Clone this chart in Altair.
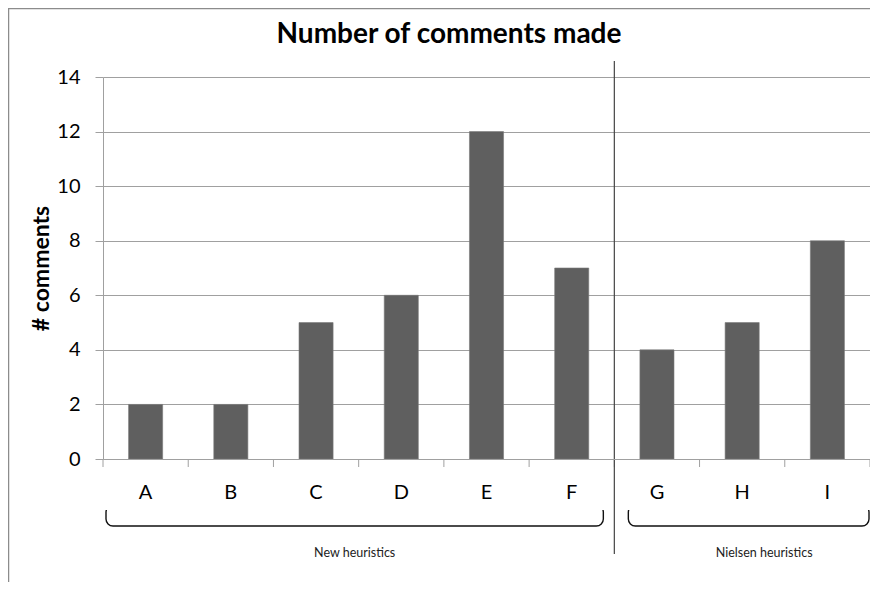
import altair as alt
import pandas as pd

categories = ["A", "B", "C", "D", "E", "F", "G", "H", "I"]
comments = [2, 2, 5, 6, 12, 7, 4, 5, 8]
group_names = ["New heuristics", "Nielsen heuristics"]
group_start = [0, 6]
group_end = [6, 9]
y_ticks = [0, 2, 4, 6, 8, 10, 12, 14]
title_text = "Number of comments made"
y_title = "# comments"

W, H = 767, 382
FONT = "Lato"
GRID = "#a0a0a0"

bars_df = pd.DataFrame({"cat": categories, "n": comments})
bounds_df = pd.DataFrame({"pos": list(range(len(categories) + 1))})
groups_df = pd.DataFrame({"group": group_names, "start": group_start, "end": group_end})
groups_df["mid"] = (groups_df["start"] + groups_df["end"]) / 2

xq = alt.Scale(domain=[0, len(categories)], range=[0, W], nice=False, zero=False)

bars = alt.Chart(bars_df).mark_bar(color="#5f5f5f", stroke="#7a7a7a", strokeWidth=0.6).encode(
    x=alt.X("cat:N", sort=categories,
            scale=alt.Scale(paddingInner=0.6, paddingOuter=0.3),
            axis=alt.Axis(title=None, labelAngle=0, ticks=False, domain=True,
                          domainColor=GRID, labelFontSize=20, labelFont=FONT,
                          labelColor="black", labelPadding=23, zindex=1)),
    y=alt.Y("n:Q", scale=alt.Scale(domain=[0, 14], nice=False),
            axis=alt.Axis(values=y_ticks, title=y_title, titleFontSize=23, titleFont=FONT,
                          titleFontWeight="bold", titleColor="black", titleX=-62, titleY=H / 2,
                          titleAngle=-90, titleAlign="center", titleBaseline="middle",
                          grid=True, gridColor=GRID, tickSize=8, tickColor=GRID,
                          domainColor=GRID, labelFontSize=20, labelFont=FONT,
                          labelColor="black", labelPadding=15)),
)

xticks = alt.Chart(bounds_df).mark_rule(color=GRID, strokeWidth=1).encode(
    x=alt.X("pos:Q", scale=xq, axis=None), y=alt.value(H), y2=alt.value(H + 8))

separator = alt.Chart(groups_df).transform_filter("datum.start > 0").mark_rule(
    color="#444444", strokeWidth=1.2).encode(
    x=alt.X("start:Q", scale=xq, axis=None), y=alt.value(-16), y2=alt.value(477))

title = alt.Chart(pd.DataFrame({"t": [title_text]})).mark_text(
    font=FONT, fontSize=28, fontWeight="bold", color="black", baseline="alphabetic",
    align="center").encode(text="t:N", x=alt.value(346), y=alt.value(-34))

frame = alt.Chart(pd.DataFrame({"t": [0]})).mark_rect(
    fill="transparent", stroke="#8c8c8c", strokeWidth=1.5).encode(
    x=alt.value(-94.5), x2=alt.value(W + 50), y=alt.value(-68.5), y2=alt.value(H + 200))

brace_offsets = {"New heuristics": (3, -11, -4), "Nielsen heuristics": (14, -1, 22)}

layers = [frame, bars, xticks, separator, title]
for g in group_names:
    lo, hi, dx = brace_offsets[g]
    gd = alt.Chart(groups_df).transform_filter(alt.datum.group == g)
    brace = gd.mark_rect(fill="transparent", stroke="#111111", strokeWidth=1.4,
                         cornerRadius=7, xOffset=lo, x2Offset=hi).encode(
        x=alt.X("start:Q", scale=xq, axis=None), x2="end:Q",
        y=alt.value(428), y2=alt.value(449))
    cover = gd.mark_rect(fill="white", xOffset=lo - 5, x2Offset=hi + 5).encode(
        x=alt.X("start:Q", scale=xq, axis=None), x2="end:Q",
        y=alt.value(425), y2=alt.value(433))
    label = gd.mark_text(font=FONT, fontSize=12.5, color="#222222", baseline="middle",
                         align="center", dx=dx).encode(
        x=alt.X("mid:Q", scale=xq, axis=None), y=alt.value(476), text="group:N")
    layers += [brace, cover, label]

chart = alt.layer(*layers).resolve_scale(x="independent").properties(
    width=W, height=H,
    autosize=alt.AutoSizeParams(type="none"),
    padding={"left": 95, "top": 69, "right": 0, "bottom": 123},
).configure_view(stroke=None)

chart.save("out.html", embed_options={"renderer": "svg", "actions": False})
